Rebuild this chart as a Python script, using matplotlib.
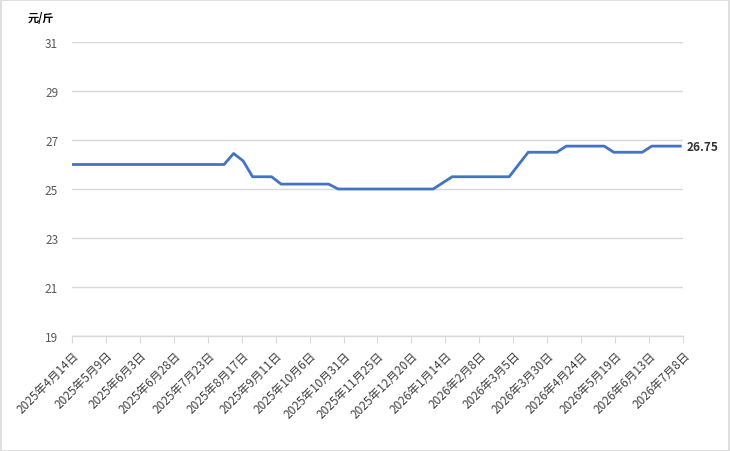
import matplotlib
matplotlib.use('Agg')
import matplotlib.pyplot as plt
import pandas as pd

plt.rcParams['font.family'] = ['Noto Sans CJK SC', 'DejaVu Sans']

# weekly price points (元/斤)
dates = pd.date_range('2025-04-14', periods=65, freq='7D')
prices = [26.0] * 17 + [26.45, 26.15] + [25.5] * 3 + [25.2] * 6 + [25.0] * 11 \
    + [25.25] + [25.5] * 7 + [26.0] + [26.5] * 4 + [26.75] * 5 + [26.5] * 4 + [26.75] * 4

tick_dates = pd.date_range('2025-04-14', '2026-07-08', freq='25D')
tick_labels = [f"{d.year}年{d.month}月{d.day}日" for d in tick_dates]
y_ticks = [19, 21, 23, 25, 27, 29, 31]

fig = plt.figure(figsize=(7.3, 4.52), dpi=100)
fig.patches.append(plt.Rectangle((0.001, 0.001), 0.998, 0.997, transform=fig.transFigure,
                                 fill=False, edgecolor='#d9d9d9', linewidth=1.2))
ax = fig.add_axes([72 / 730, 1 - 337 / 452, (683 - 72) / 730, (337 - 43) / 452])

ax.plot(dates, prices, color='#4472c4', linewidth=2.0, solid_joinstyle='round')
ax.annotate(f"{prices[-1]:.2f}", (dates[-1], prices[-1]), xytext=(dates[-1] + pd.Timedelta(days=5), prices[-1]),
            va='center', ha='left', fontsize=8.5, fontweight='bold', color='#333333')

ax.set_xlim(tick_dates[0], tick_dates[-1])
ax.set_ylim(19, 31)
ax.set_yticks(y_ticks)
ax.set_xticks(tick_dates)
ax.set_xticklabels(tick_labels, rotation=45, ha='right', rotation_mode='anchor', fontsize=8.5, color='#404040')
ax.tick_params(axis='x', length=5, color='#d9d9d9', pad=4)
ax.tick_params(axis='y', length=0, labelsize=8.5, labelcolor='#595959', pad=10)
ax.grid(axis='y', color='#d9d9d9', linewidth=1)
ax.set_axisbelow(True)
for s in ['top', 'right', 'left']:
    ax.spines[s].set_visible(False)
ax.spines['bottom'].set_color('#d9d9d9')
ax.spines['bottom'].set_linewidth(1)

fig.text(28 / 730, 1 - 18 / 452, '元/斤', fontsize=8, fontweight='bold', va='center', ha='left')

fig.savefig('out.png', dpi=100)
